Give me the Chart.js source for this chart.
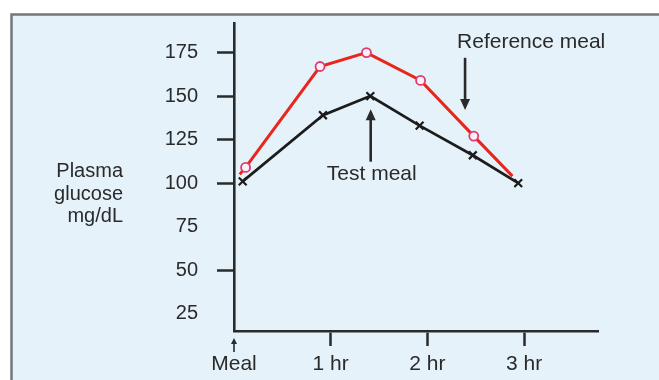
<!DOCTYPE html>
<html>
<head>
<meta charset="utf-8">
<script src="https://cdn.jsdelivr.net/npm/chart.js@4/dist/chart.umd.min.js"></script>
<style>
  html, body { margin: 0; padding: 0; background: #fff; }
  #wrap { width: 659px; height: 380px; }
</style>
</head>
<body>
<div id="wrap"><canvas id="glucoseChart" width="659" height="380"></canvas></div>
<script>
// time axis: hours after the meal
const timeTicks = [0, 1, 2, 3];
const timeLabels = ['Meal', '1 hr', '2 hr', '3 hr'];

// glucose axis (mg/dL); 25 and 75 get a label but no tick mark
const glucoseTicks = [25, 50, 75, 100, 125, 150, 175];
const unmarkedTicks = [25, 75];

// test meal (black, crosses)
const testHours = [0.09, 0.92, 1.41, 1.92, 2.47, 2.94];
const testGlucose = [101, 139, 150, 133, 116, 100];

// reference meal (red, open circles); first and last points carry no marker
const refHours = [0.06, 0.12, 0.89, 1.37, 1.93, 2.48, 2.88];
const refGlucose = [105, 109, 167, 175, 159, 127, 104];
const refMarked = [false, true, true, true, true, true, false];

const yTitleLines = ['Plasma', 'glucose', 'mg/dL'];

const FONT = 'Arial, "Liberation Sans", Helvetica, sans-serif';
const INK = '#2a2a2a';

function drawArrow(ctx, x, yTail, yTip, head, width) {
  const dir = yTip < yTail ? 1 : -1;
  ctx.beginPath();
  ctx.moveTo(x, yTail);
  ctx.lineTo(x, yTip + dir * head * 0.8);
  ctx.stroke();
  ctx.beginPath();
  ctx.moveTo(x, yTip);
  ctx.lineTo(x - width / 2, yTip + dir * head);
  ctx.lineTo(x + width / 2, yTip + dir * head);
  ctx.closePath();
  ctx.fill();
}

// keep the plot box exactly where the layout padding puts it
function noLabelPadding(scale) {
  scale.paddingTop = 0;
  scale.paddingBottom = 0;
  scale.paddingLeft = 0;
  scale.paddingRight = 0;
}

// light blue panel with a grey frame on the top and left edges
const panelPlugin = {
  id: 'panel',
  beforeDraw(chart) {
    const ctx = chart.ctx;
    ctx.save();
    ctx.fillStyle = '#ffffff';
    ctx.fillRect(0, 0, chart.width, chart.height);
    ctx.fillStyle = '#e6f2fa';
    ctx.fillRect(11, 14, chart.width - 11, chart.height - 14);
    ctx.strokeStyle = '#73777a';
    ctx.lineWidth = 2.5;
    ctx.beginPath();
    ctx.moveTo(11.5, chart.height);
    ctx.lineTo(11.5, 14.5);
    ctx.lineTo(chart.width, 14.5);
    ctx.stroke();
    ctx.restore();
  }
};

// y title, arrow under "Meal" and the two series callouts
const notesPlugin = {
  id: 'notes',
  afterDraw(chart) {
    const ctx = chart.ctx;
    const xs = chart.scales.x;
    const ys = chart.scales.y;
    ctx.save();
    ctx.fillStyle = INK;
    ctx.strokeStyle = INK;
    ctx.font = '20px ' + FONT;

    ctx.textAlign = 'right';
    ctx.textBaseline = 'alphabetic';
    yTitleLines.forEach((line, i) => ctx.fillText(line, 123, 177 + i * 22.5));

    // small arrow marking the meal on the time axis
    ctx.lineWidth = 1.6;
    drawArrow(ctx, xs.getPixelForValue(0), 352, 338, 6, 6);

    ctx.font = '21px ' + FONT;

    // Reference meal callout
    ctx.lineWidth = 2.6;
    ctx.textAlign = 'left';
    ctx.fillText('Reference meal', xs.getPixelForValue(2.307), ys.getPixelForValue(177.6));
    drawArrow(ctx, xs.getPixelForValue(2.39), ys.getPixelForValue(172), ys.getPixelForValue(142), 11, 10);

    // Test meal callout
    ctx.textAlign = 'center';
    ctx.fillText('Test meal', xs.getPixelForValue(1.425), ys.getPixelForValue(101.8));
    drawArrow(ctx, xs.getPixelForValue(1.414), ys.getPixelForValue(112.3), ys.getPixelForValue(142.4), 11, 10);
    ctx.restore();
  }
};

const ctx = document.getElementById('glucoseChart');
new Chart(ctx, {
  type: 'line',
  data: {
    datasets: [
      {
        label: 'Reference meal',
        data: refHours.map((h, i) => ({ x: h, y: refGlucose[i] })),
        borderColor: '#e8261c',
        borderWidth: 3,
        pointStyle: 'circle',
        pointRadius: refMarked.map(m => (m ? 4.5 : 0)),
        pointBorderColor: '#e03a70',
        pointBackgroundColor: '#fdf0f4',
        pointBorderWidth: 1.8,
        tension: 0,
        fill: false
      },
      {
        label: 'Test meal',
        data: testHours.map((h, i) => ({ x: h, y: testGlucose[i] })),
        borderColor: '#1c1c1c',
        borderWidth: 2.7,
        pointStyle: 'crossRot',
        pointRadius: 5.5,
        pointBorderColor: '#1c1c1c',
        pointBorderWidth: 2.2,
        tension: 0,
        fill: false
      }
    ]
  },
  options: {
    responsive: false,
    animation: false,
    events: [],
    layout: { padding: { left: 0, top: 23, right: 61, bottom: 0 } },
    plugins: {
      legend: { display: false },
      tooltip: { enabled: false }
    },
    scales: {
      x: {
        type: 'linear',
        min: 0,
        max: 3.765,
        afterBuildTicks: scale => { scale.ticks = timeTicks.map(v => ({ value: v })); },
        afterFit: scale => { scale.height = 49; noLabelPadding(scale); },
        grid: {
          drawOnChartArea: false,
          drawTicks: true,
          tickLength: 15,
          tickWidth: 2.5,
          tickColor: c => (c.tick && c.tick.value === 0 ? 'rgba(0,0,0,0)' : INK)
        },
        border: { color: INK, width: 2.6 },
        ticks: {
          padding: 6,
          maxRotation: 0,
          autoSkip: false,
          color: INK,
          font: { family: FONT, size: 21 },
          callback: v => timeLabels[timeTicks.indexOf(v)]
        }
      },
      y: {
        type: 'linear',
        min: 15,
        max: 192,
        afterBuildTicks: scale => { scale.ticks = glucoseTicks.map(v => ({ value: v })); },
        afterFit: scale => { scale.width = 234; noLabelPadding(scale); },
        grid: {
          drawOnChartArea: false,
          drawTicks: true,
          tickLength: 17,
          tickWidth: 2.5,
          tickColor: c => (c.tick && unmarkedTicks.includes(c.tick.value) ? 'rgba(0,0,0,0)' : INK)
        },
        border: { color: INK, width: 2.6 },
        ticks: {
          padding: 19,
          color: INK,
          font: { family: FONT, size: 20 }
        }
      }
    }
  },
  plugins: [panelPlugin, notesPlugin]
});
</script>
</body>
</html>
